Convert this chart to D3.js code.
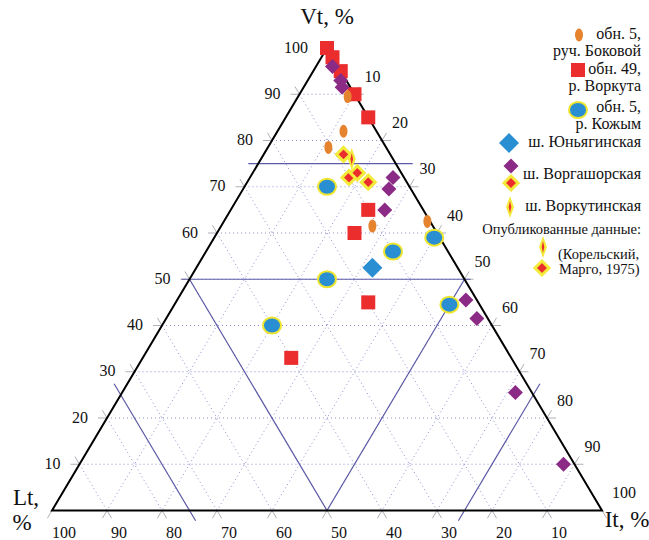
<!DOCTYPE html>
<html>
<head>
<meta charset="utf-8">
<script src="https://cdn.jsdelivr.net/npm/d3@7"></script>
<style>
  body { margin: 0; background: #fff; }
  svg { display: block; }
  text { font-family: "Liberation Serif", "Times New Roman", "DejaVu Serif", serif; }
</style>
</head>
<body>
<svg id="chart" width="649" height="540" viewBox="0 0 649 540"></svg>
<script>
// Data: ternary compositions, % (Vt, Lt, It)
const bokovoyVt = [89.5, 82, 78.5, 62.5, 61.5];
const bokovoyLt = [1.5, 6, 10.5, 0.5, 11];
const bokovoyIt = [9, 12, 11, 37, 27.5];

const vorkutaVt = [100, 98, 95, 90, 85, 65, 60, 45, 33];
const vorkutaLt = [0, 0, 0, 0, 0, 10, 15, 20, 40];
const vorkutaIt = [0, 2, 5, 10, 15, 25, 25, 35, 27];

const kozhymVt = [70, 56, 59, 50, 40, 44.5];
const kozhymLt = [15, 10, 1, 25, 40, 5.5];
const kozhymIt = [15, 34, 40, 25, 20, 50];

const yunyaginVt = [52.5];
const yunyaginLt = [15.5];
const yunyaginIt = [32];

const vorgashorVt = [96, 93, 91.5, 72, 69.5, 65, 45.5, 41.5, 25.5, 10];
const vorgashorLt = [1, 1, 1.5, 2, 4, 7, 2, 2, 3, 2];
const vorgashorIt = [3, 6, 7, 26, 26.5, 28, 52.5, 56.5, 71.5, 88];

const vorgashorPubVt = [77, 72, 73, 71];
const vorgashorPubLt = [8.5, 10, 8, 7];
const vorgashorPubIt = [14.5, 18, 19, 22];

const vorkutinPubVt = [76];
const vorkutinPubLt = [7.5];
const vorkutinPubIt = [16.5];

const gridValues = [10, 20, 30, 40, 50, 60, 70, 80, 90];
const leftTickLabels = [100, 90, 80, 70, 60, 50, 40, 30, 20, 10];   // Vt
const rightTickLabels = [10, 20, 30, 40, 50, 60, 70, 80, 90, 100];  // It
const bottomTickLabels = [100, 90, 80, 70, 60, 50, 40, 30, 20, 10]; // Lt

const svg = d3.select("#chart");

// Ternary projection built from two linear scales
const yScale = d3.scaleLinear().domain([0, 100]).range([510.5, 48]);
const xScale = d3.scaleLinear().domain([0, 100]).range([52, 602]);
function project(vt, lt, it) {
    const s = vt + lt + it;
    const v = vt / s * 100, i = it / s * 100;
    return [xScale(i + v / 2), yScale(v)];
}

const gridColor = "#8f8fd0";
const solidColor = "#5d5aa6";
const tickColor = "#b0b0b8";

// Dotted grid
const grid = svg.append("g");
gridValues.forEach(k => {
    const lines = [
        [project(k, 100 - k, 0), project(k, 0, 100 - k)],   // Vt = k
        [project(100 - k, k, 0), project(0, k, 100 - k)],   // Lt = k
        [project(100 - k, 0, k), project(0, 100 - k, k)]    // It = k
    ];
    lines.forEach(([a, b]) => {
        grid.append("line")
            .attr("x1", a[0]).attr("y1", a[1]).attr("x2", b[0]).attr("y2", b[1])
            .attr("stroke", gridColor).attr("stroke-width", 1)
            .attr("stroke-dasharray", "1,3");
    });
});

// small grey ticks: grid lines pushed a little past the frame
function extend(a, b, len) {
    const dx = b[0] - a[0], dy = b[1] - a[1], d = Math.hypot(dx, dy);
    return [b[0] + dx / d * len, b[1] + dy / d * len];
}
const ticks = svg.append("g").attr("stroke", tickColor).attr("stroke-width", 1);
function tick(from, at) {
    const e = extend(from, at, 9);
    ticks.append("line").attr("x1", at[0]).attr("y1", at[1]).attr("x2", e[0]).attr("y2", e[1]);
}
gridValues.forEach(k => {
    const left = project(k, 100 - k, 0);
    const right = project(k, 0, 100 - k);
    const base = project(0, 100 - k, k);
    tick(right, left);                    // Vt = k, left side
    tick(project(0, 100 - k, k), left);   // Lt = 100 - k, left side
    tick(left, right);                    // Vt = k, right side
    tick(project(0, k, 100 - k), right);  // It = 100 - k, right side
    tick(project(100 - k, 0, k), base);   // It = k, base
    tick(project(100 - k, k, 0), project(0, k, 100 - k)); // Lt = k, base
});
tick(project(100, 0, 0), project(0, 0, 100));
tick(project(100, 0, 0), project(0, 100, 0));

// Solid classification lines
function solid(a, b, extA, extB) {
    const a2 = extA ? extend(b, a, extA) : a;
    const b2 = extB ? extend(a, b, extB) : b;
    svg.append("line")
        .attr("x1", a2[0]).attr("y1", a2[1]).attr("x2", b2[0]).attr("y2", b2[1])
        .attr("stroke", solidColor).attr("stroke-width", 1.2);
}
solid(project(75, 25, 0), project(75, 0, 25), 10, 17);
solid(project(50, 50, 0), project(50, 0, 50), 8, 6);
solid(project(50, 50, 0), project(0, 50, 50), 0, 0);
solid(project(50, 0, 50), project(0, 50, 50), 0, 0);
solid(project(25, 75, 0), project(0, 75, 25), 13, 12);
solid(project(25, 0, 75), project(0, 25, 75), 13, 12);

// Triangle frame
const A = project(100, 0, 0), B = project(0, 100, 0), C = project(0, 0, 100);
svg.append("path")
    .attr("d", `M${A}L${B}L${C}Z`)
    .attr("fill", "none").attr("stroke", "#000").attr("stroke-width", 2)
    .attr("stroke-linejoin", "miter");

// Tick labels
const labels = svg.append("g").attr("font-size", 16).attr("fill", "#111");
leftTickLabels.forEach(v => {
    const p = project(v, 100 - v, 0);
    labels.append("text").attr("x", p[0] - 19).attr("y", p[1] + 1)
        .attr("text-anchor", "end").attr("dominant-baseline", "middle").text(v);
});
rightTickLabels.forEach(i => {
    const p = project(100 - i, 0, i);
    labels.append("text").attr("x", p[0] + 10).attr("y", p[1] - 16)
        .attr("text-anchor", "start").attr("dominant-baseline", "middle").text(i);
});
bottomTickLabels.forEach(l => {
    const p = project(0, l, 100 - l);
    labels.append("text").attr("x", p[0] + 12).attr("y", 534)
        .attr("text-anchor", "middle").attr("dominant-baseline", "middle").text(l);
});

// Axis titles
const titles = svg.append("g").attr("font-size", 23).attr("fill", "#111");
titles.append("text").attr("x", 327).attr("y", 19).attr("text-anchor", "middle")
    .attr("dominant-baseline", "middle").text("Vt, %");
titles.append("text").attr("x", 26).attr("y", 500).attr("text-anchor", "middle")
    .attr("dominant-baseline", "middle").text("Lt,");
titles.append("text").attr("x", 22).attr("y", 525).attr("text-anchor", "middle")
    .attr("dominant-baseline", "middle").text("%");
titles.append("text").attr("x", 627).attr("y", 522).attr("text-anchor", "middle")
    .attr("dominant-baseline", "middle").text("It, %");

// Marker shapes
const shapes = {
    ellipse: g => g.append("ellipse").attr("rx", 4).attr("ry", 6.5).attr("fill", "#e6832e"),
    square: g => g.append("rect").attr("x", -7).attr("y", -7).attr("width", 14).attr("height", 14)
        .attr("fill", "#ec2d2d"),
    circle: g => g.append("ellipse").attr("rx", 9).attr("ry", 8).attr("fill", "#2a8fd2")
        .attr("stroke", "#eee52e").attr("stroke-width", 2),
    bigDiamond: g => g.append("path").attr("d", "M0,-10L10,0L0,10L-10,0Z").attr("fill", "#2a8fd2"),
    diamond: g => g.append("path").attr("d", "M0,-7.5L7.5,0L0,7.5L-7.5,0Z").attr("fill", "#8c2b86"),
    pubDiamond: g => g.append("path").attr("d", "M0,-7L7,0L0,7L-7,0Z").attr("fill", "#ec2d2d")
        .attr("stroke", "#f3ea3a").attr("stroke-width", 3).attr("stroke-linejoin", "miter"),
    pubNeedle: g => {
        g.append("path").attr("d", "M0,-11L4,0L0,11L-4,0Z").attr("fill", "#f3ea3a");
        g.append("path").attr("d", "M0,-6L1.3,0L0,6L-1.3,0Z").attr("fill", "#ec2d2d");
    }
};

function drawSeries(vt, lt, it, shape) {
    const pts = vt.map((v, k) => project(v, lt[k], it[k]));
    svg.append("g").selectAll("g")
        .data(pts)
        .join("g")
        .attr("transform", d => `translate(${d[0]},${d[1]})`)
        .each(function () { shapes[shape](d3.select(this)); });
}

drawSeries(vorkutaVt, vorkutaLt, vorkutaIt, "square");
drawSeries(vorgashorVt, vorgashorLt, vorgashorIt, "diamond");
drawSeries(bokovoyVt, bokovoyLt, bokovoyIt, "ellipse");
drawSeries(kozhymVt, kozhymLt, kozhymIt, "circle");
drawSeries(yunyaginVt, yunyaginLt, yunyaginIt, "bigDiamond");
drawSeries(vorgashorPubVt, vorgashorPubLt, vorgashorPubIt, "pubDiamond");
drawSeries(vorkutinPubVt, vorkutinPubLt, vorkutinPubIt, "pubNeedle");

// Legend
const legend = svg.append("g").attr("fill", "#111");
function legendMark(x, y, shape) {
    const g = legend.append("g").attr("transform", `translate(${x},${y})`);
    shapes[shape](g);
}
function legendText(x, y, txt, size, anchor) {
    legend.append("text").attr("x", x).attr("y", y)
        .attr("font-size", size).attr("text-anchor", anchor || "end")
        .attr("dominant-baseline", "middle").text(txt);
}
legendMark(579, 35, "ellipse");
legendText(641, 35, "обн. 5,", 16);
legendText(641, 52, "руч. Боковой", 16);
legendMark(578, 70, "square");
legendText(641, 70, "обн. 49,", 16);
legendText(641, 87, "р. Воркута", 16);
legendMark(578, 110, "circle");
legendText(641, 108, "обн. 5,", 16);
legendText(641, 125, "р. Кожым", 16);
legendMark(509, 143, "bigDiamond");
legendText(641, 143, "ш. Юньягинская", 16);
legendMark(511, 166, "diamond");
legendMark(511, 183, "pubDiamond");
legendText(641, 175, "ш. Воргашорская", 16);
legendMark(510, 207, "pubNeedle");
legendText(641, 207, "ш. Воркутинская", 16);
legendText(641, 231, "Опубликованные данные:", 14.5);
legendMark(543, 247, "pubNeedle");
legendMark(542, 268, "pubDiamond");
legendText(558, 256, "(Корельский,", 14.5, "start");
legendText(559, 271, "Марго, 1975)", 14.5, "start");
</script>
</body>
</html>
